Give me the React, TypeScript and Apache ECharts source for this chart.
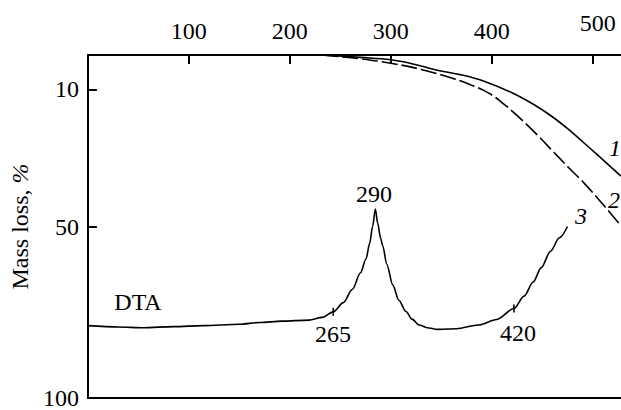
import React, { useEffect, useRef } from "react";
import * as echarts from "echarts";

const xTicks = [100, 200, 300, 400, 500];
const yTickValues = [10, 50];
const yLabelValues = [10, 50, 100];

const curve1: [number, number][] = [
  [232, 0], [243, 0.2], [270, 0.7], [300, 1.4], [322, 2.6], [344, 4.3], [370, 5.8],
  [393, 7.7], [420, 11], [442, 14.5], [460, 18], [476, 21.7], [492, 25.8],
  [508, 30], [528, 35.3],
];
const curve2: [number, number][] = [
  [232, 0], [243, 0.3], [270, 1.1], [300, 2.4], [330, 4.2], [361, 6.8],
  [380, 8.8], [397, 11.1], [412, 14.3], [426, 17.9], [444, 23], [462, 28.5],
  [476, 32.8], [491, 37.2], [510, 43.5], [528, 49.8],
];
const dta: [number, number][] = [
  [0, 78.9], [30, 79.3], [55, 79.5], [85, 79.2], [114, 78.9], [150, 78.5],
  [170, 78.0], [192, 77.6], [219, 77.3], [232, 76.5], [243, 74.9], [253, 72.2],
  [262, 68.3], [270, 63.5], [275.5, 59.4], [279, 55], [282, 50], [284.7, 44.9],
  [287, 49], [290, 53.5], [292, 55.6], [296, 61], [302, 67.1], [308, 71.5],
  [315, 74.8], [321, 77], [328, 78.7], [336, 79.5], [346, 80], [365, 79.8],
  [387, 78.7], [405, 77.1], [422, 73.9], [432, 70.3], [441, 66.2], [449, 62],
  [458, 57.3], [467, 53.3], [475, 50],
];
const dtaMarks: [number, number][] = [[243, 74.9], [422, 73.9]];

const FONT = "'Liberation Serif', 'Times New Roman', Times, serif";
const FS = 24;

export default function App() {
  const ref = useRef<HTMLDivElement>(null);
  useEffect(() => {
    if (!ref.current) return;
    const chart = echarts.init(ref.current, null, { renderer: "svg" });
    const txt = (text: string, x: number, y: number, italic = false) => ({
      type: "text",
      x,
      y,
      style: {
        text,
        fontFamily: FONT,
        fontSize: FS,
        fontStyle: italic ? "italic" : "normal",
        fill: "#000",
        align: "center",
        verticalAlign: "middle",
      },
    });
    chart.setOption({
      animation: false,
      backgroundColor: "#fff",
      grid: { left: 82, top: 55, right: 0, bottom: 10 },
      xAxis: [
        {
          type: "value",
          position: "top",
          min: 0,
          max: 528,
          axisLine: { show: true, lineStyle: { color: "#000", width: 2 } },
          axisTick: {
            show: true,
            inside: true,
            length: 9,
            lineStyle: { color: "#000", width: 2 },
            customValues: xTicks,
          },
          axisLabel: {
            show: true,
            customValues: xTicks,
            fontFamily: FONT,
            fontSize: FS,
            color: "#000",
            margin: 12,
            formatter: (v: number) => (v === 500 ? "{up|500}" : String(v)),
            rich: {
              up: {
                fontFamily: FONT,
                fontSize: FS,
                color: "#000",
                padding: [0, 0, 8, 10],
              },
            },
          },
          splitLine: { show: false },
        },
        {
          type: "value",
          position: "bottom",
          min: 0,
          max: 528,
          axisLine: { show: true, lineStyle: { color: "#000", width: 2 } },
          axisTick: { show: false },
          axisLabel: { show: false },
          splitLine: { show: false },
        },
      ],
      yAxis: {
        type: "value",
        inverse: true,
        min: 0,
        max: 100,
        name: "Mass loss, {i|%}",
        nameLocation: "middle",
        nameRotate: 90,
        nameGap: 48,
        nameTextStyle: {
          fontFamily: FONT,
          fontSize: FS,
          color: "#000",
          rich: {
            i: { fontFamily: FONT, fontSize: FS, fontStyle: "italic", color: "#000" },
          },
        },
        axisLine: { show: true, lineStyle: { color: "#000", width: 2 } },
        axisTick: {
          show: true,
          inside: true,
          length: 9,
          lineStyle: { color: "#000", width: 2 },
          customValues: yTickValues,
        },
        axisLabel: {
          show: true,
          customValues: yLabelValues,
          fontFamily: FONT,
          fontSize: FS,
          color: "#000",
          margin: 9,
        },
        splitLine: { show: false },
      },
      series: [
        {
          type: "line",
          data: curve1,
          showSymbol: false,
          smooth: 0.4,
          lineStyle: { color: "#000", width: 1.6 },
        },
        {
          type: "line",
          data: curve2,
          showSymbol: false,
          smooth: 0.4,
          lineStyle: { color: "#000", width: 1.6, type: [16, 4] },
        },
        {
          type: "line",
          data: dta,
          showSymbol: false,
          smooth: 0.3,
          smoothMonotone: "x",
          lineStyle: { color: "#000", width: 1.6 },
          markPoint: {
            symbol: "rect",
            symbolSize: [1.6, 8],
            itemStyle: { color: "#000" },
            label: { show: false },
            data: dtaMarks.map((c) => ({ coord: c })),
          },
        },
      ],
      graphic: [
        txt("290", 374, 194),
        txt("265", 333, 334),
        txt("420", 518, 333),
        txt("DTA", 138, 302),
        txt("1", 615, 148, true),
        txt("2", 614, 200, true),
        txt("3", 581, 216, true),
      ],
    });
    return () => chart.dispose();
  }, []);
  return (
    <div
      ref={ref}
      style={{ position: "fixed", left: 0, top: 0, width: 621, height: 410, background: "#fff" }}
    />
  );
}
